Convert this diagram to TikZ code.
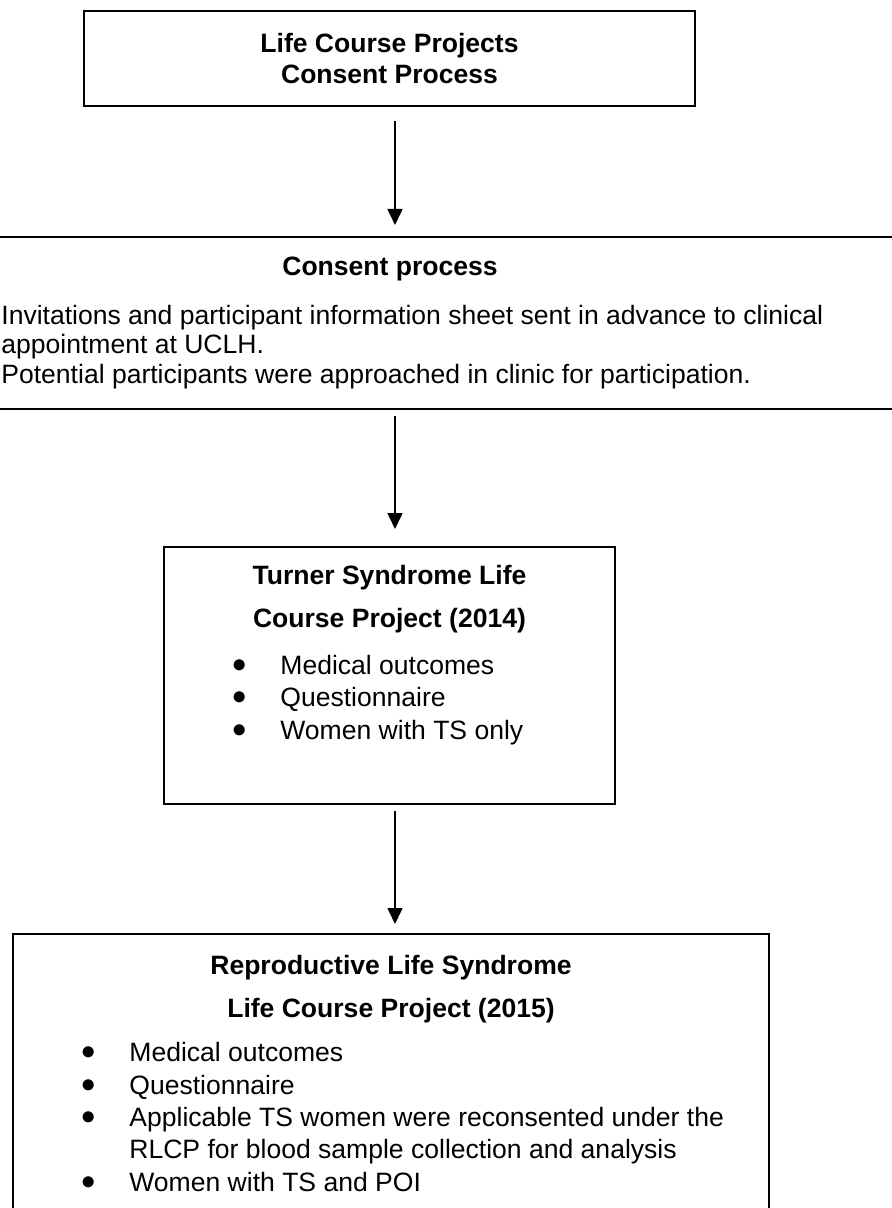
\documentclass[tikz,border=0pt]{standalone}
\usepackage{fontspec}
\setmainfont{Liberation Sans}
\usetikzlibrary{arrows.meta,positioning}

\newcommand{\bul}{\makebox[23.75pt][l]{\raisebox{1pt}{$\bullet$}}}
\newcommand{\nobul}{\makebox[23.75pt]{}}

\begin{document}
\begin{tikzpicture}[x=0.5pt,y=-0.5pt,
  font=\fontsize{13.27}{16.15}\selectfont,
  box/.style={draw, line width=1pt, inner sep=0pt},
  hd/.style={font=\fontsize{13.27}{21.5}\selectfont\bfseries, align=center, inner sep=0pt},
  txt/.style={align=left, inner sep=0pt},
  arr/.style={-{Triangle[length=8pt,width=7.5pt]}, line width=0.8pt}]
  \useasboundingbox (0,0) rectangle (892,1208);
  \clip (0,0) rectangle (892,1208);

  \node[box, hd, font=\fontsize{13.27}{15.5}\selectfont\bfseries,
        minimum width=305.5pt, minimum height=47.5pt] (top) at (389.5,58.5)
        {Life Course Projects\\Consent Process};

  % consent band runs past both page edges
  \node[box, minimum width=510pt, minimum height=86pt] (consent) at (390,323) {};
  \node[hd, anchor=base] (consenthd) at (390,276) {Consent process};
  \node[txt, font=\fontsize{13.27}{14.75}\selectfont, anchor=base west] (consenttxt) at (1,383)
        {Invitations and participant information sheet sent in advance to clinical\\
         appointment at UCLH.\\
         Potential participants were approached in clinic for participation.};

  \node[box, minimum width=225.5pt, minimum height=128.5pt] (ts) at (389.5,675.5) {};
  \node[hd, anchor=base] (tshd) at (389.5,627) {Turner Syndrome Life\\Course Project (2014)};
  \node[txt, anchor=base west] (tslist) at (232.5,739)
        {\bul Medical outcomes\\ \bul Questionnaire\\ \bul Women with TS only};

  \node[box, minimum width=378pt, minimum height=153pt] (rlcp) at (391,1087) {};
  \node[hd, anchor=base] (rlcphd) at (391,1017) {Reproductive Life Syndrome\\Life Course Project (2015)};
  \node[txt, anchor=base west] (rlcplist) at (81.5,1191)
        {\bul Medical outcomes\\
         \bul Questionnaire\\
         \bul Applicable TS women were reconsented under the\\
         \nobul RLCP for blood sample collection and analysis\\
         \bul Women with TS and POI};

  \path[arr]
  ([xshift=2.75pt,yshift=-7pt]top.south) edge ([xshift=2.5pt,yshift=5.5pt]consent.north)
  ([xshift=2.5pt,yshift=-3pt]consent.south) edge ([xshift=2.75pt,yshift=8.5pt]ts.north)
  ([xshift=2.75pt,yshift=-3pt]ts.south) edge ([xshift=2pt,yshift=4.5pt]rlcp.north);
\end{tikzpicture}
\end{document}
